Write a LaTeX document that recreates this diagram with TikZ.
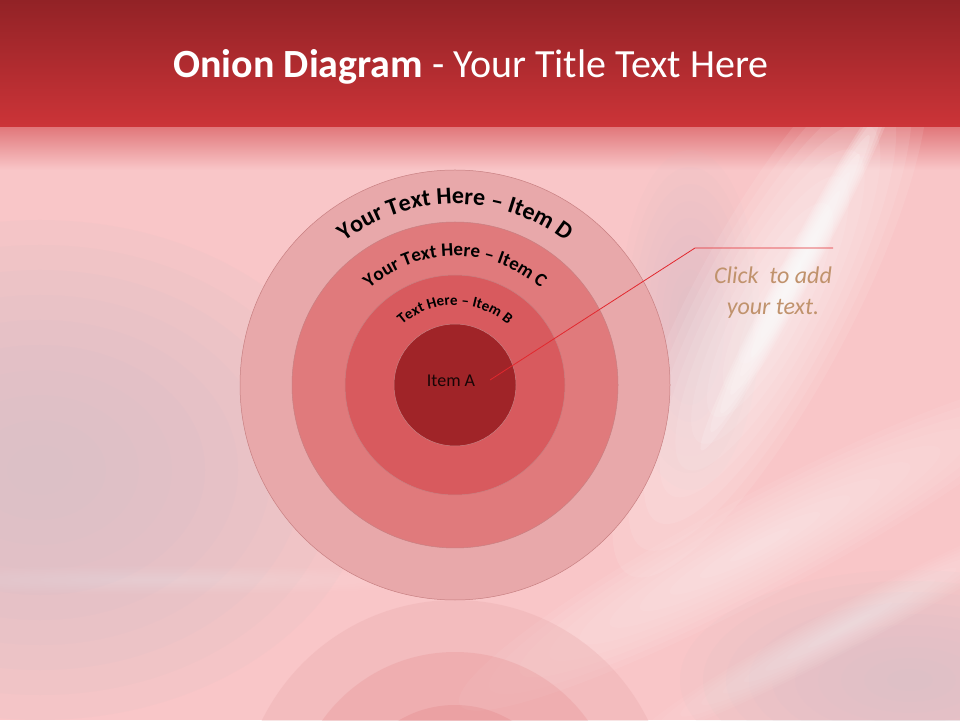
\documentclass[tikz,border=0pt]{standalone}
\usepackage{fontspec}
\setmainfont{Carlito}
\usetikzlibrary{decorations.text}
\definecolor{barTop}{RGB}{146,34,38}
\definecolor{barBottom}{RGB}{204,52,56}
\definecolor{backPink}{RGB}{249,198,200}
\definecolor{greyPink}{RGB}{214,192,198}
\definecolor{ringD}{RGB}{232,168,170}
\definecolor{ringC}{RGB}{224,122,124}
\definecolor{ringB}{RGB}{216,90,94}
\definecolor{ringA}{RGB}{160,36,40}
\definecolor{ringEdge}{RGB}{200,128,130}
\definecolor{calloutRed}{RGB}{226,40,46}
\definecolor{noteTan}{RGB}{192,146,108}
% soft glow: colour, opacity of one layer, centre, x radius, y radius, angle
\newcommand{\softglow}[6]{%
  \foreach \k in {1,...,10}
    \fill[#1, opacity=#2, rotate around={#6:#3}] #3 ellipse [x radius={#4*\k/10}, y radius={#5*\k/10}];}
\tikzset{
  ring/.style={fill=#1, draw=ringEdge, line width=0.5pt},
}
\begin{document}
\begin{tikzpicture}[x=1pt,y=1pt]
     \useasboundingbox (0,0) rectangle (960,720);
     % background
     \fill[backPink] (0,0) rectangle (960,720);
     \fill[top color=barBottom!55!backPink, bottom color=backPink] (0,550) rectangle (960,594);
     \softglow{greyPink}{0.13}{(40,250)}{330}{250}{0}
     \softglow{greyPink}{0.1}{(910,40)}{230}{110}{0}
     \softglow{greyPink}{0.07}{(690,400)}{70}{170}{0}
     \softglow{white}{0.09}{(770,410)}{300}{80}{62}
     \softglow{white}{0.15}{(800,455)}{210}{16}{62}
     \softglow{white}{0.06}{(760,175)}{340}{50}{28}
     \softglow{white}{0.05}{(850,95)}{240}{22}{28}
     \softglow{white}{0.03}{(160,140)}{300}{14}{0}
     % title bar
     \fill[top color=barTop, bottom color=barBottom] (0,593) rectangle (960,720);
     \node[text=white, font=\fontsize{40}{48}\selectfont] (title) at (471,653)
          {\textbf{Onion Diagram} - Your Title Text Here};
     % reflection
     \begin{scope}
       \clip (0,0) rectangle (960,120);
       \fill[ringD, opacity=0.3] (455,-95) circle [radius=215];
       \fill[ringC, opacity=0.2] (455,-95) circle [radius=163];
       \fill[ringB, opacity=0.15] (455,-95) circle [radius=110];
     \end{scope}
     % onion
     \draw[ring=ringD] (455,335) circle [radius=215];
     \draw[ring=ringC] (455,335) circle [radius=163];
     \draw[ring=ringB] (455,335) circle [radius=110];
     \draw[ring=ringA] (455,335) circle [radius=61];
     \path[decorate, decoration={text along path, text align=center,
           text format delimiters={|}{|},
           text={|\bfseries\fontsize{24}{24}\selectfont|Your Text Here – Item D}}]
           (455,335) ++(180:181) arc [start angle=180, end angle=0, radius=181];
     \path[decorate, decoration={text along path, text align=center,
           text format delimiters={|}{|},
           text={|\bfseries\fontsize{19}{19}\selectfont|Your Text Here – Item C}}]
           (455,335) ++(180:129) arc [start angle=180, end angle=0, radius=129];
     \path[decorate, decoration={text along path, text align=center,
           text format delimiters={|}{|},
           text={|\bfseries\fontsize{15}{15}\selectfont|Text Here – Item B}}]
           (455,335) ++(180:80) arc [start angle=180, end angle=0, radius=80];
     \node[text=black!85!ringA, font=\fontsize{18}{18}\selectfont] (itemA) at (451,339) {Item A};
     % callout
     \coordinate (lineStart) at (490,340);
     \coordinate (lineBend) at (695,472);
     \coordinate (lineEnd) at (833,472);
     \draw[calloutRed, line width=0.8pt] (lineStart) -- (lineBend) -- (lineEnd);
     \node[text=noteTan, align=center, font=\itshape\fontsize{24}{31}\selectfont] (note) at (773,427)
          {Click\ \ to add\\your text.};
\end{tikzpicture}
\end{document}
